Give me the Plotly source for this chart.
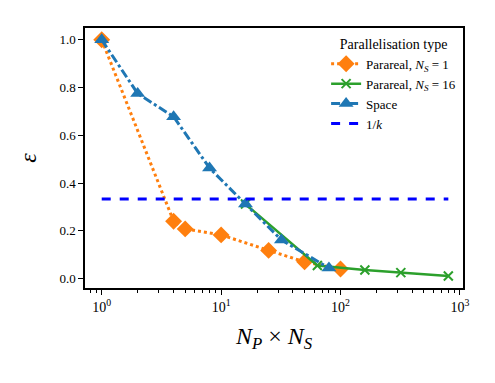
import plotly.graph_objects as go

# Data
x_par1 = [1, 4, 5, 10, 25, 50, 100]
y_par1 = [1.0, 0.24, 0.208, 0.183, 0.118, 0.07, 0.04]

x_par16 = [16, 64, 160, 320, 800]
y_par16 = [0.312, 0.055, 0.036, 0.025, 0.011]

x_space = [1, 2, 4, 8, 16, 32, 80]
y_space = [1.0, 0.775, 0.678, 0.463, 0.312, 0.162, 0.044]

x_k = [1, 800]
k_val = 3
y_k = [1.0 / k_val, 1.0 / k_val]

xtick_vals = [1, 10, 100, 1000]
xtick_text = ["10<sup>0</sup>", "10<sup>1</sup>", "10<sup>2</sup>", "10<sup>3</sup>"]
ytick_vals = [0.0, 0.2, 0.4, 0.6, 0.8, 1.0]

minor_vals = [m * 10 ** e for e in range(-1, 3) for m in range(2, 10)]

FONT = "Liberation Serif"

fig = go.Figure()
fig.add_trace(go.Scatter(
    x=x_par1, y=y_par1, mode="lines+markers",
    name="Parareal, <i>N</i><sub><i>S</i></sub> = 1",
    line=dict(color="#ff7f0e", width=3, dash="dot"),
    marker=dict(symbol="diamond", size=13, color="#ff7f0e"),
))
fig.add_trace(go.Scatter(
    x=x_par16, y=y_par16, mode="lines+markers",
    name="Parareal, <i>N</i><sub><i>S</i></sub> = 16",
    line=dict(color="#2ca02c", width=2.5),
    marker=dict(symbol="x-thin", size=9, color="#2ca02c",
                line=dict(color="#2ca02c", width=2)),
))
fig.add_trace(go.Scatter(
    x=x_space, y=y_space, mode="lines+markers",
    name="Space",
    line=dict(color="#1f77b4", width=3, dash="dashdot"),
    marker=dict(symbol="triangle-up", size=13, color="#1f77b4"),
))
fig.add_trace(go.Scatter(
    x=x_k, y=y_k, mode="lines",
    name="1/<i>k</i>",
    line=dict(color="#0000ff", width=3, dash="dash"),
))

fig.update_layout(
    width=495, height=383,
    margin=dict(l=85, r=32, t=28, b=95),
    paper_bgcolor="white", plot_bgcolor="white",
    font=dict(family=FONT, size=12, color="black"),
    legend=dict(
        x=0.995, y=0.99, xanchor="right", yanchor="top",
        bgcolor="rgba(255,255,255,0.8)",
        font=dict(family=FONT, size=13, color="black"),
        title=dict(text="Parallelisation type", side="top center",
                   font=dict(family=FONT, size=14, color="black")),
        itemwidth=30, tracegroupgap=0,
    ),
    xaxis=dict(
        type="log", range=[-0.14, 3.026],
        tickvals=xtick_vals, ticktext=xtick_text,
        ticks="outside", ticklen=5, tickwidth=1.2, tickcolor="black",
        showline=True, linecolor="black", linewidth=1.5, mirror=True,
        showgrid=False, zeroline=False,
        tickfont=dict(family=FONT, size=14, color="black"),
        minor=dict(tickvals=minor_vals, ticks="outside", ticklen=3,
                   tickwidth=1, tickcolor="black", showgrid=False),
        title=dict(text="<i>N</i><sub><i>P</i></sub> × <i>N</i><sub><i>S</i></sub>",
                   font=dict(family=FONT, size=24, color="black"), standoff=14),
    ),
    yaxis=dict(
        range=[-0.0395, 1.0495],
        tickvals=ytick_vals, tickformat=".1f",
        ticks="outside", ticklen=5, tickwidth=1.2, tickcolor="black",
        showline=True, linecolor="black", linewidth=1.5, mirror=True,
        showgrid=False, zeroline=False,
        tickfont=dict(family=FONT, size=13, color="black"),
        title=dict(text="<i>ε</i>", font=dict(family=FONT, size=24, color="black"), standoff=16),
    ),
)

fig.write_html("out.html")
